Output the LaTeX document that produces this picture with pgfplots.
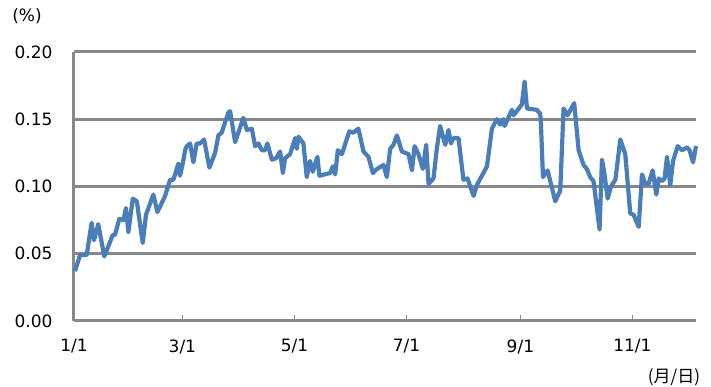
\documentclass[border=0pt]{standalone}
\usepackage{pgfplots}
\pgfplotsset{compat=1.18}
\usepackage{fontspec}
\setmainfont{DejaVu Sans}
\newfontfamily\jp{Noto Sans CJK JP}
\definecolor{linecol}{HTML}{4A7EBB}
\definecolor{gridcol}{HTML}{888888}
\begin{document}
\begin{tikzpicture}
\useasboundingbox (-74pt,-66pt) rectangle (637pt,321pt);
\begin{axis}[
  at={(0pt,0pt)}, anchor=south west, scale only axis,
  width=622pt, height=269pt,
  xmin=0, xmax=338.6, ymin=0, ymax=0.2,
  axis x line=bottom, axis y line=left,
  axis line style={draw=gridcol, line width=3pt, -},
  ymajorgrids, grid style={draw=gridcol, line width=3pt},
  ytick={0,0.05,0.1,0.15,0.2},
  xtick={0,59,120,181,243,304},
  xticklabels={1/1,3/1,5/1,7/1,9/1,11/1},
  ytick style={draw=none},
  xtick style={draw=gridcol, line width=1.5pt},
  tick align=inside, major tick length=6pt,
  yticklabel style={font=\fontsize{17}{20}\selectfont, anchor=east, xshift=-18pt,
    /pgf/number format/.cd, fixed, fixed zerofill, precision=2, assume math mode=true},
  xticklabel style={font=\fontsize{17}{20}\selectfont, yshift=-15pt},
  clip=false,
]
\addplot[color=linecol, line width=4.2pt, line join=round] coordinates {
(0.5,0.037)(3.3,0.049)(6.9,0.049)(9.6,0.073)(10.9,0.060)(13.2,0.072)(16.5,0.048)
(21.1,0.064)(22.3,0.064)(24.7,0.076)(26.9,0.075)(28.3,0.084)(29.6,0.066)(32.0,0.091)
(34.2,0.089)(37.4,0.058)(39.2,0.079)(43.2,0.094)(45.4,0.081)(49.6,0.093)(52.3,0.105)
(54.1,0.105)(56.8,0.117)(57.7,0.108)(59.2,0.117)(60.5,0.127)(61.4,0.130)(63.2,0.132)
(65.0,0.118)(66.8,0.132)(68.6,0.132)(70.8,0.135)(73.7,0.114)(76.8,0.125)(78.6,0.138)
(80.4,0.140)(84.0,0.155)(85.0,0.156)(87.7,0.133)(92.2,0.151)(94.1,0.142)(96.8,0.143)
(98.6,0.130)(100.4,0.132)(102.2,0.127)(104.0,0.127)(105.3,0.132)(107.7,0.120)(110.0,0.121)
(112.2,0.126)(113.7,0.110)(114.9,0.121)(117.6,0.124)(120.4,0.136)(121.3,0.128)(122.2,0.137)
(124.9,0.132)(126.7,0.107)(128.5,0.119)(130.0,0.111)(132.5,0.122)(133.6,0.108)(139.4,0.110)
(140.9,0.115)(142.2,0.109)(143.6,0.127)(145.8,0.124)(149.9,0.141)(152.1,0.140)(154.8,0.143)
(157.6,0.126)(160.3,0.122)(162.7,0.110)(164.9,0.113)(168.5,0.116)(170.3,0.107)(172.1,0.128)
(173.9,0.131)(175.8,0.138)(178.5,0.126)(182.1,0.124)(184.0,0.112)(185.4,0.130)(187.5,0.124)
(189.9,0.113)(191.7,0.131)(193.0,0.102)(195.7,0.106)(197.5,0.128)(199.3,0.145)(202.1,0.131)
(203.9,0.142)(205.2,0.132)(206.6,0.136)(209.3,0.136)(212.0,0.105)(214.2,0.106)(217.5,0.093)
(219.3,0.101)(224.8,0.115)(227.5,0.143)(230.2,0.150)(232.0,0.146)(233.8,0.150)(234.4,0.145)
(238.4,0.157)(239.3,0.153)(243.8,0.161)(245.3,0.178)(246.6,0.158)(252.0,0.157)(253.8,0.154)
(254.2,0.146)(255.3,0.107)(257.8,0.112)(262.0,0.089)(264.7,0.097)(266.5,0.158)(268.7,0.153)
(272.3,0.162)(274.7,0.127)(277.4,0.116)(279.2,0.113)(281.0,0.107)(282.8,0.104)(286.1,0.068)
(287.4,0.120)(288.7,0.110)(290.5,0.091)(292.3,0.100)(294.7,0.105)(297.4,0.135)(300.1,0.124)
(302.8,0.080)(304.6,0.079)(307.4,0.070)(309.2,0.109)(311.0,0.102)(312.8,0.102)(315.0,0.112)
(317.0,0.094)(318.3,0.106)(320.1,0.104)(321.5,0.106)(322.8,0.122)(324.6,0.101)(326.1,0.119)
(328.6,0.130)(331.0,0.127)(333.7,0.129)(335.1,0.127)(337.0,0.118)(338.6,0.130)
};
\end{axis}
\node[font=\fontsize{17}{20}\selectfont] at (-47pt,305pt) {(\%)};
\node[font=\jp\fontsize{17}{20}\selectfont] at (600pt,-56pt) {(月/日)};
\end{tikzpicture}
\end{document}
